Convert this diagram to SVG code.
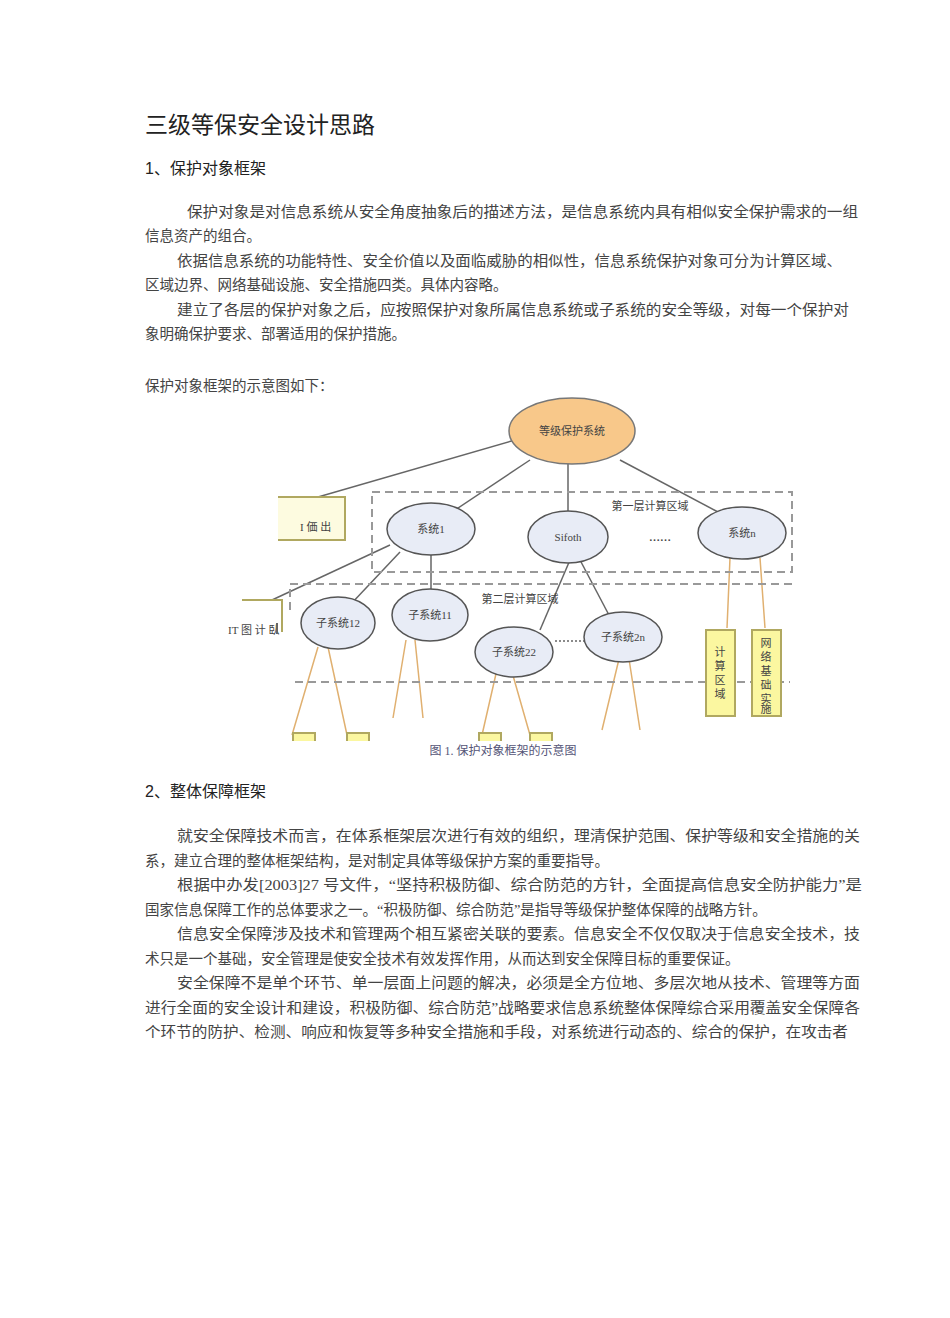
<svg xmlns="http://www.w3.org/2000/svg" width="950" height="1318" viewBox="0 0 950 1318">
<style>
.t{font-family:"Liberation Serif","Noto Sans CJK SC",serif;font-size:14.5px;fill:#444}
.h{font-family:"Liberation Sans","Noto Sans CJK SC",sans-serif;fill:#222}
.n{font-family:"Liberation Serif","Noto Sans CJK SC",serif;font-size:11px;fill:#444}
.e{fill:#e8ecf6;stroke:#555;stroke-width:1.5}
.l{stroke:#666;stroke-width:1.5;fill:none}
.o{stroke:#e0b070;stroke-width:1.5;fill:none}
.d{stroke:#999;stroke-width:2;stroke-dasharray:8 5;fill:none}
.y{fill:#fbf7a0;stroke:#b0a860;stroke-width:2}
</style>
<rect width="950" height="1318" fill="#fff"/>
<text class="h" x="145" y="133" font-size="23">三级等保安全设计思路</text>
<text class="h" x="145" y="174" font-size="16">1、保护对象框架</text>
<g class="t">
<text x="187" y="217" textLength="671" lengthAdjust="spacingAndGlyphs">保护对象是对信息系统从安全角度抽象后的描述方法，是信息系统内具有相似安全保护需求的一组</text>
<text x="145" y="241">信息资产的组合。</text>
<text x="177" y="266" textLength="665" lengthAdjust="spacingAndGlyphs">依据信息系统的功能特性、安全价值以及面临威胁的相似性，信息系统保护对象可分为计算区域、</text>
<text x="145" y="290">区域边界、网络基础设施、安全措施四类。具体内容略。</text>
<text x="177" y="315" textLength="672" lengthAdjust="spacingAndGlyphs">建立了各层的保护对象之后，应按照保护对象所属信息系统或子系统的安全等级，对每一个保护对</text>
<text x="145" y="339">象明确保护要求、部署适用的保护措施。</text>
<text x="145" y="391">保护对象框架的示意图如下：</text>
</g>
<g id="connectors">
<line class="l" x1="515" y1="440" x2="318" y2="497"/>
<line class="l" x1="530" y1="460" x2="455" y2="510"/>
<line class="l" x1="568" y1="463" x2="568" y2="512"/>
<line class="l" x1="620" y1="460" x2="718" y2="512"/>
<line class="l" x1="390" y1="545" x2="272" y2="600"/>
<line class="l" x1="400" y1="552" x2="350" y2="605"/>
<line class="l" x1="431" y1="555" x2="431" y2="592"/>
<line class="l" x1="570" y1="560" x2="540" y2="630"/>
<line class="l" x1="580" y1="560" x2="610" y2="617"/>
<line class="l" x1="555" y1="641" x2="584" y2="641" stroke-dasharray="2 2"/>
<path class="o" d="M318 647L292 735M328 647L347 735M406 640L393 718M415 640L423 718M498 665L482 735M510 665L530 735M619 659L602 730M629 659L640 730M730 558L727 628M760 558L765 628"/>
</g>
<rect class="d" x="372" y="492" width="420" height="80"/>
<path class="d" d="M792 584H290V612"/>
<path class="d" d="M295 682H790"/>
<g id="n0"><ellipse cx="572" cy="431" rx="63" ry="33" fill="#f8c88a" stroke="#777" stroke-width="1.5"/><text class="n" x="572" y="435" text-anchor="middle">等级保护系统</text></g>
<g id="n1"><ellipse class="e" cx="431" cy="529" rx="44" ry="26"/><text class="n" x="431" y="533" text-anchor="middle">系统1</text></g>
<g id="n2"><ellipse class="e" cx="568" cy="537" rx="40" ry="26"/><text class="n" x="568" y="541" text-anchor="middle" fill="#aaa">Sifoth</text></g>
<text class="n" x="660" y="541" text-anchor="middle" font-weight="bold">……</text>
<g id="n3"><ellipse class="e" cx="742" cy="533" rx="44" ry="26"/><text class="n" x="742" y="537" text-anchor="middle">系统n</text></g>
<text class="n" x="650" y="510" text-anchor="middle" fill="#bbb">第一层计算区域</text>
<text class="n" x="520" y="603" text-anchor="middle">第二层计算区域</text>
<g id="n4"><ellipse class="e" cx="338" cy="623" rx="37" ry="26"/><text class="n" x="338" y="627" text-anchor="middle">子系统12</text></g>
<g id="n5"><ellipse class="e" cx="430" cy="615" rx="38" ry="26"/><text class="n" x="430" y="619" text-anchor="middle">子系统11</text></g>
<g id="n6"><ellipse class="e" cx="514" cy="652" rx="39" ry="25"/><text class="n" x="514" y="656" text-anchor="middle">子系统22</text></g>
<g id="n7"><ellipse class="e" cx="623" cy="637" rx="39" ry="25"/><text class="n" x="623" y="641" text-anchor="middle">子系统2n</text></g>
<g id="n8"><path d="M278 497H345V540H278" fill="#fdfbe0" stroke="#b0a860" stroke-width="2"/><text class="n" x="300" y="531" fill="#998">I 価 出</text></g>
<g id="n9"><path d="M242 600H282V632" fill="none" stroke="#b0a860" stroke-width="2"/><text class="n" x="228" y="634" font-size="9" fill="#998">IT 图 计 臥</text><rect x="276" y="623" width="2" height="11" fill="#666"/></g>
<g id="n10"><rect class="y" x="706" y="630" width="29" height="86"/><g class="n" text-anchor="middle"><text x="720" y="656">计</text><text x="720" y="670">算</text><text x="720" y="684">区</text><text x="720" y="698">域</text></g></g>
<g id="n11"><rect class="y" x="752" y="630" width="29" height="86"/><g class="n" text-anchor="middle"><text x="766" y="647">网</text><text x="766" y="661">络</text><text x="766" y="675">基</text><text x="766" y="689">础</text><text x="766" y="703">实</text><text x="766" y="713">施</text></g></g>
<rect class="y" x="293" y="733" width="22" height="10"/>
<rect class="y" x="347" y="733" width="22" height="10"/>
<rect class="y" x="479" y="733" width="22" height="10"/>
<rect class="y" x="530" y="733" width="22" height="10"/>
<rect x="220" y="741" width="600" height="30" fill="#fff"/>
<text x="503" y="755" text-anchor="middle" font-family="Liberation Serif,Noto Sans CJK SC,serif" font-size="12" fill="#557">图 1. 保护对象框架的示意图</text>
<text class="h" x="145" y="797" font-size="16">2、整体保障框架</text>
<g class="t">
<text x="177" y="841" textLength="683" lengthAdjust="spacingAndGlyphs">就安全保障技术而言，在体系框架层次进行有效的组织，理清保护范围、保护等级和安全措施的关</text>
<text x="145" y="866">系，建立合理的整体框架结构，是对制定具体等级保护方案的重要指导。</text>
<text x="177" y="890" textLength="685" lengthAdjust="spacingAndGlyphs">根据中办发[2003]27 号文件，“坚持积极防御、综合防范的方针，全面提高信息安全防护能力”是</text>
<text x="145" y="915">国家信息保障工作的总体要求之一。“积极防御、综合防范”是指导等级保护整体保障的战略方针。</text>
<text x="177" y="939" textLength="683" lengthAdjust="spacingAndGlyphs">信息安全保障涉及技术和管理两个相互紧密关联的要素。信息安全不仅仅取决于信息安全技术，技</text>
<text x="145" y="964">术只是一个基础，安全管理是使安全技术有效发挥作用，从而达到安全保障目标的重要保证。</text>
<text x="177" y="988" textLength="683" lengthAdjust="spacingAndGlyphs">安全保障不是单个环节、单一层面上问题的解决，必须是全方位地、多层次地从技术、管理等方面</text>
<text x="145" y="1013" textLength="715" lengthAdjust="spacingAndGlyphs">进行全面的安全设计和建设，积极防御、综合防范”战略要求信息系统整体保障综合采用覆盖安全保障各</text>
<text x="145" y="1037" textLength="703" lengthAdjust="spacingAndGlyphs">个环节的防护、检测、响应和恢复等多种安全措施和手段，对系统进行动态的、综合的保护，在攻击者</text>
</g>
</svg>
